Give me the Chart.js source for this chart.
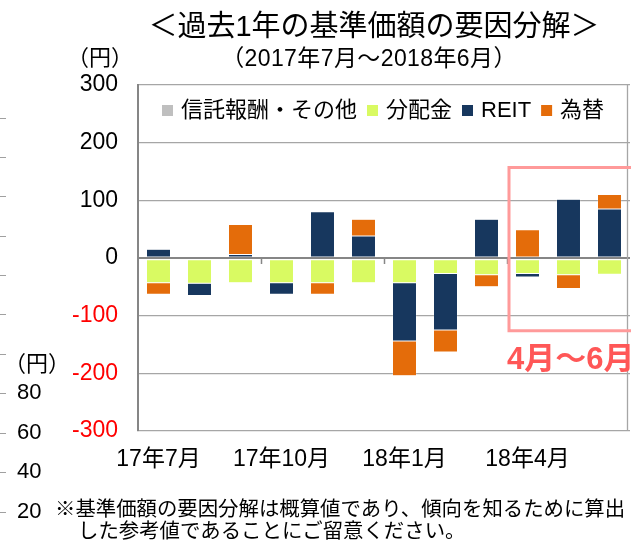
<!DOCTYPE html>
<html>
<head>
<meta charset="utf-8">
<script src="https://cdn.jsdelivr.net/npm/chart.js@4/dist/chart.umd.min.js"></script>
<style>
  html, body { margin: 0; padding: 0; background: #fff; }
  #wrap { width: 631px; height: 541px; position: relative; }
</style>
</head>
<body>
<div id="wrap"><canvas id="c" width="631" height="541"></canvas></div>
<script>
// ---- data ----
const categories = ['2017年7月','2017年8月','2017年9月','2017年10月','2017年11月','2017年12月',
                    '2018年1月','2018年2月','2018年3月','2018年4月','2018年5月','2018年6月'];
const tickLabels = ['17年7月','','','17年10月','','','18年1月','','','18年4月','',''];
const trustFee     = [-3, -3, -3, -3, -3, -3, -3, -3, -3, -3, -3, -3];
const distribution = [-40, -41, -40, -40, -40, -40, -40, -24, -26, -24, -26, -25];
const reit         = [15, -21, 6, -20, 80, 38, -101, -98, 67, -6, 102, 85];
const fx           = [-20, -1, 52, -1, -20, 29, -60, -38, -21, 49, -24, 25];
const seriesNames  = ['信託報酬・その他', '分配金', 'REIT', '為替'];
const seriesColors = ['#bfbfbf', '#d9fa62', '#17375e', '#e46c0a'];
const yMin = -300, yMax = 300, yStep = 100;

const titleText    = '＜過去1年の基準価額の要因分解＞';
const subtitleText = '（2017年7月～2018年6月）';
const unitText     = '（円）';
const highlightText = '4月～6月';
const noteLines = ['※基準価額の要因分解は概算値であり、傾向を知るために算出',
                   'した参考値であることにご留意ください。'];
// fragment of the neighbouring chart visible at the left edge
const sideLabels = ['80', '60', '40', '20'];

const FONT = '"Liberation Sans", Arial, "Noto Sans CJK JP", sans-serif';

const decor = {
  id: 'decor',
  afterDraw(chart) {
    const ctx = chart.ctx;
    const xs = chart.scales.x, ys = chart.scales.y;
    const ca = chart.chartArea;
    ctx.save();
    ctx.fillStyle = '#000';
    ctx.textBaseline = 'middle';
    // title
    ctx.textAlign = 'center';
    ctx.font = '29px ' + FONT;
    ctx.fillText(titleText, 374, 28);
    ctx.font = '23px ' + FONT;
    ctx.letterSpacing = '0.4px';
    ctx.fillText(subtitleText, 369, 60);
    ctx.letterSpacing = '0px';
    ctx.font = '22px ' + FONT;
    ctx.fillText(unitText, 100, 59);

    // legend (inside plot, one row)
    ctx.textAlign = 'left';
    ctx.font = '22px ' + FONT;
    let lx = 162;
    const ly = 111;
    chart.data.datasets.forEach((d, i) => {
      ctx.fillStyle = d.backgroundColor;
      ctx.fillRect(lx, ly - 6, 11, 11);
      lx += 11 + 8;
      ctx.fillStyle = '#000';
      ctx.fillText(d.label, lx, ly);
      lx += ctx.measureText(d.label).width + 10;
    });

    // category boundary ticks under the zero line (every 3 months)
    const cw = (xs.getPixelForValue(1) - xs.getPixelForValue(0));
    const y0 = ys.getPixelForValue(0);
    ctx.strokeStyle = '#868686';
    ctx.lineWidth = 1.5;
    [3, 6, 9].forEach(i => {
      const px = Math.round(xs.getPixelForValue(i) - cw / 2) + 0.5;
      ctx.beginPath(); ctx.moveTo(px, y0); ctx.lineTo(px, y0 + 6); ctx.stroke();
    });

    // right border of plot
    ctx.strokeStyle = '#a6a6a6';
    ctx.lineWidth = 1.3;
    ctx.beginPath(); ctx.moveTo(627.5, ca.top); ctx.lineTo(627.5, ca.bottom); ctx.stroke();

    // highlight box for Apr-Jun
    const hx = xs.getPixelForValue(9) - cw / 2 + 2;
    const hTop = ys.getPixelForValue(157), hBot = ys.getPixelForValue(-126);
    ctx.strokeStyle = '#ff9a9a';
    ctx.lineWidth = 3;
    ctx.beginPath();
    ctx.moveTo(640, hTop); ctx.lineTo(hx, hTop); ctx.lineTo(hx, hBot); ctx.lineTo(640, hBot);
    ctx.stroke();
    ctx.fillStyle = '#ff5757';
    ctx.textAlign = 'left';
    ctx.font = 'bold 31px ' + FONT;
    ctx.fillText(highlightText, hx - 2, 360);

    // side fragment
    ctx.fillStyle = '#000';
    ctx.font = '22px ' + FONT;
    ctx.textAlign = 'left';
    ctx.fillText(unitText, 4, 365);
    const sideY = [393, 433, 472, 512];
    sideLabels.forEach((t, i) => ctx.fillText(t, 17, sideY[i]));
    ctx.strokeStyle = '#a0a0a0';
    ctx.lineWidth = 1;
    [118,157,196,236,275,314,354,393,433,472,512].forEach(y => {
      ctx.beginPath(); ctx.moveTo(0, y + 0.5); ctx.lineTo(6, y + 0.5); ctx.stroke();
    });

    // footnote
    ctx.font = '20.4px "Noto Sans CJK JP", sans-serif';
    ctx.fillText(noteLines[0], 55, 508);
    ctx.fillText(noteLines[1], 78, 530);
    ctx.restore();
  }
};

const ds = (i, data) => ({
  label: seriesNames[i], data, backgroundColor: seriesColors[i],
  borderColor: 'rgba(255,255,255,0.6)', borderWidth: 0.5,
  barPercentage: 0.585, categoryPercentage: 1.0, borderSkipped: false
});

new Chart(document.getElementById('c'), {
  type: 'bar',
  data: {
    labels: categories,
    datasets: [ds(0, trustFee), ds(1, distribution), ds(2, reit), ds(3, fx)]
  },
  options: {
    responsive: false,
    animation: false,
    devicePixelRatio: 1,
    layout: { padding: { top: 85, left: 0, right: 1, bottom: 0 } },
    plugins: {
      legend: { display: false },
      tooltip: { enabled: false },
      title: { display: false }
    },
    scales: {
      x: {
        stacked: true,
        grid: { display: false, drawTicks: false },
        border: { display: false },
        ticks: {
          autoSkip: false, maxRotation: 0, minRotation: 0,
          color: '#000', padding: 15,
          font: { size: 23, family: FONT },
          callback: (v, i) => tickLabels[i]
        },
        afterFit: s => { s.height = 110; }
      },
      y: {
        stacked: true,
        min: yMin, max: yMax,
        ticks: {
          stepSize: yStep,
          padding: 20,
          font: { size: 23, family: FONT },
          color: c => (c.tick && c.tick.value < 0) ? '#ff0000' : '#000'
        },
        grid: {
          drawTicks: false,
          color: c => (c.tick && c.tick.value === 0) ? '#868686' : '#a6a6a6',
          lineWidth: c => (c.tick && c.tick.value === 0) ? 2 : 1.3
        },
        border: { display: true, color: '#868686', width: 2 },
        afterFit: s => { s.width = 138; }
      }
    }
  },
  plugins: [decor]
});
</script>
</body>
</html>
